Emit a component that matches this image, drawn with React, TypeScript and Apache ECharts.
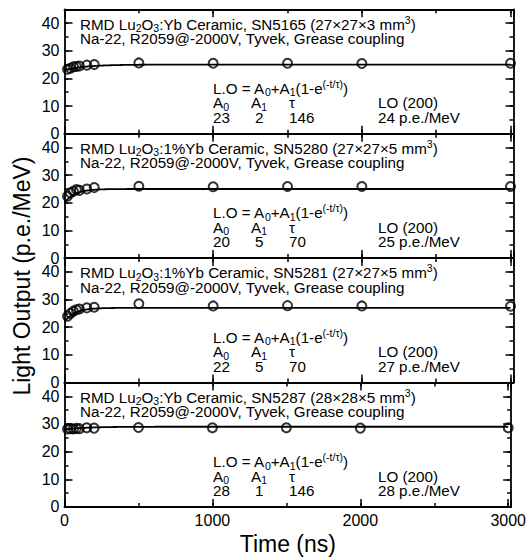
import React, { useEffect, useRef } from "react";
import * as echarts from "echarts";

const FONT = "'Liberation Sans', Arial, Helvetica, sans-serif";

// Gate / integration time (ns)
const timeNs = [20, 40, 60, 80, 100, 150, 200, 500, 1000, 1500, 2000, 3000];

// Light output (p.e./MeV) for each sample
const loSN5165 = [23.3, 23.7, 24.2, 24.3, 24.5, 24.8, 25.0, 25.6, 25.5, 25.5, 25.4, 25.5];
const loSN5280 = [22.4, 23.6, 24.2, 24.8, 24.5, 25.0, 25.5, 26.0, 25.8, 25.9, 25.9, 25.9];
const loSN5281 = [24.0, 25.0, 25.8, 26.3, 26.6, 27.0, 27.2, 28.5, 27.7, 27.8, 27.7, 27.6];
const loSN5287 = [28.2, 28.3, 28.2, 28.4, 28.3, 28.6, 28.5, 28.7, 28.6, 28.6, 28.5, 28.6];

const serials = ["SN5165", "SN5280", "SN5281", "SN5287"];
const dopants = ["Yb", "1%Yb", "1%Yb", "Yb"];
const dimensions = ["27×27×3", "27×27×5", "27×27×5", "28×28×5"];
const setupText = "Na-22, R2059@-2000V, Tyvek, Grease coupling";

// Fit parameters printed on the chart: L.O = A0 + A1(1 - exp(-t/tau))
const fitA0 = [23, 20, 22, 28];
const fitA1 = [2, 5, 5, 1];
const fitTau = [146, 70, 70, 146];
const lo200 = [24, 25, 27, 28];

const panelValues = [loSN5165, loSN5280, loSN5281, loSN5287];

const X_MAX = 3020;
const Y_MAX = 45;
const GRID_LEFT = 64.5;
const GRID_RIGHT = 15.5;
const GRID_TOP = 9.3;
const PANEL_H = 124.4;
const NP = 4;

const FS = 15.2;
const SFS = 10.5;
const base = { fontSize: FS, fontFamily: FONT, fill: "#000" };
const subS = {
  fontSize: SFS,
  fontFamily: FONT,
  fill: "#000",
  verticalAlign: "middle",
  lineHeight: 6,
  padding: [8, 0, 0, 0],
};
const supS = {
  fontSize: SFS,
  fontFamily: FONT,
  fill: "#000",
  verticalAlign: "middle",
  lineHeight: 6,
  padding: [0, 0, 9, 0],
};

const RICH = {
  sub: subS,
  sup: supS,
  A: { ...base, width: 10.2 },
  s: { ...subS, width: 27.8 },
  tau: { ...base, width: 89 },
  v0: { ...base, width: 42 },
  v1: { ...base, width: 34 },
  v2: { ...base, width: 89 },
};

function block(x: number, y: number, text: string, lineHeight: number) {
  return {
    type: "text",
    x,
    y,
    silent: true,
    style: {
      text,
      ...base,
      align: "left",
      verticalAlign: "middle",
      lineHeight,
      rich: RICH,
    },
  };
}

function fitCurve(g: number): number[][] {
  // model curve defined by the fit parameters shown in the panel
  const pts: number[][] = [];
  for (let t = 0; t <= 3000; t += 5) {
    pts.push([t, fitA0[g] + fitA1[g] * (1 - Math.exp(-t / fitTau[g]))]);
  }
  return pts;
}

export default function App() {
  const ref = useRef<HTMLDivElement>(null);

  useEffect(() => {
    if (!ref.current) return;
    const chart = echarts.init(ref.current, undefined, { renderer: "svg" });

    const tops = Array.from({ length: NP }, (_, i) => GRID_TOP + i * PANEL_H);
    const lineStyle = { color: "#000", width: 1.8 };
    const tickStyle = { color: "#000", width: 1.5 };
    const labelStyle = { color: "#000", fontSize: 16, fontFamily: FONT };

    const xAxis: any[] = [];
    const yAxis: any[] = [];
    const series: any[] = [];
    const graphic: any[] = [];

    tops.forEach((top, g) => {
      const isLast = g === NP - 1;
      const xBase = { gridIndex: g, type: "value", min: 0, max: X_MAX, splitLine: { show: false } };
      xAxis.push({
        ...xBase,
        position: "bottom",
        interval: 1000,
        axisLine: { show: true, onZero: false, lineStyle },
        axisTick: { show: true, inside: true, length: 8, lineStyle: tickStyle },
        axisLabel: {
          show: isLast,
          margin: 6,
          ...labelStyle,
          formatter: (v: number) => (v % 1000 === 0 ? String(v) : ""),
        },
        ...(isLast
          ? {
              name: "Time (ns)",
              nameLocation: "middle",
              nameGap: 26,
              nameTextStyle: { color: "#000", fontSize: 23, fontFamily: FONT },
            }
          : {}),
      });
      xAxis.push({
        ...xBase,
        position: "bottom",
        interval: 500,
        axisLine: { show: false, onZero: false },
        axisTick: { show: true, inside: true, length: 4, lineStyle: tickStyle },
        axisLabel: { show: false },
      });
      xAxis.push({
        ...xBase,
        position: "top",
        interval: 1000,
        axisLine: { show: true, onZero: false, lineStyle },
        axisTick: { show: true, inside: true, length: 8, lineStyle: tickStyle },
        axisLabel: { show: false },
      });
      xAxis.push({
        ...xBase,
        position: "top",
        interval: 500,
        axisLine: { show: false, onZero: false },
        axisTick: { show: true, inside: true, length: 4, lineStyle: tickStyle },
        axisLabel: { show: false },
      });

      const yBase = { gridIndex: g, type: "value", min: 0, max: Y_MAX, splitLine: { show: false } };
      yAxis.push({
        ...yBase,
        position: "left",
        interval: 10,
        axisLine: { show: true, onZero: false, lineStyle },
        axisTick: { show: true, inside: true, length: 8, lineStyle: tickStyle },
        axisLabel: {
          show: true,
          margin: 5,
          ...labelStyle,
          formatter: (v: number) => (v % 10 === 0 ? String(v) : ""),
        },
      });
      yAxis.push({
        ...yBase,
        position: "left",
        interval: 5,
        axisLine: { show: false, onZero: false },
        axisTick: { show: true, inside: true, length: 4, lineStyle: tickStyle },
        axisLabel: { show: false },
      });
      yAxis.push({
        ...yBase,
        position: "right",
        interval: 10,
        axisLine: { show: true, onZero: false, lineStyle },
        axisTick: { show: true, inside: true, length: 8, lineStyle: tickStyle },
        axisLabel: { show: false },
      });
      yAxis.push({
        ...yBase,
        position: "right",
        interval: 5,
        axisLine: { show: false, onZero: false },
        axisTick: { show: true, inside: true, length: 4, lineStyle: tickStyle },
        axisLabel: { show: false },
      });

      series.push({
        type: "line",
        xAxisIndex: 4 * g,
        yAxisIndex: 4 * g,
        data: fitCurve(g),
        showSymbol: false,
        symbol: "none",
        silent: true,
        lineStyle: { color: "#000", width: 1.8 },
        z: 2,
      });
      series.push({
        type: "scatter",
        xAxisIndex: 4 * g,
        yAxisIndex: 4 * g,
        data: timeNs.map((t, i) => [t, panelValues[g][i]]),
        symbol: "circle",
        symbolSize: 9,
        itemStyle: { color: "rgba(255,255,255,0)", borderColor: "#000", borderWidth: 2 },
        z: 3,
      });

      // sample description (two lines)
      graphic.push(
        block(
          80,
          top + 22,
          `RMD Lu{sub|2}O{sub|3}:${dopants[g]} Ceramic, ${serials[g]} (${dimensions[g]} mm{sup|3})\n${setupText}`,
          14.5
        )
      );
      // fit formula, parameter table and LO(200)
      graphic.push(
        block(
          213,
          top + 93.5,
          "L.O = A{sub|0}+A{sub|1}(1-e{sup|(-t/τ)})\n" +
            "{A|A}{s|0}{A|A}{s|1}{tau|τ}LO (200)\n" +
            `{v0|${fitA0[g]}}{v1|${fitA1[g]}}{v2|${fitTau[g]}}${lo200[g]} p.e./MeV`,
          14.5
        )
      );
    });

    graphic.push({
      type: "text",
      x: 22,
      y: 276,
      rotation: Math.PI / 2,
      silent: true,
      style: {
        text: "Light Output (p.e./MeV)",
        fill: "#000",
        fontSize: 23,
        fontFamily: FONT,
        align: "center",
        verticalAlign: "middle",
      },
    });

    chart.setOption({
      animation: false,
      backgroundColor: "#fff",
      grid: tops.map((t) => ({ left: GRID_LEFT, right: GRID_RIGHT, top: t, height: PANEL_H })),
      xAxis,
      yAxis,
      series,
      graphic,
    });

    return () => chart.dispose();
  }, []);

  return (
    <div
      ref={ref}
      style={{ position: "absolute", left: 0, top: 0, width: 529, height: 560 }}
    />
  );
}
